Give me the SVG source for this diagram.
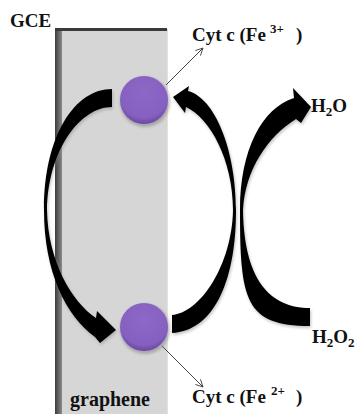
<svg xmlns="http://www.w3.org/2000/svg" width="358" height="414" viewBox="0 0 358 414">
<style>
.t{font-family:"Liberation Serif","Times New Roman",serif;font-weight:bold;fill:#111}
.arr{fill:#000}
.thin{stroke:#444;stroke-width:1;fill:none}
</style>
<defs>
<linearGradient id="edge" x1="0" y1="0" x2="1" y2="0">
<stop offset="0" stop-color="#3c3c3c"/><stop offset="1" stop-color="#8a8a8a"/>
</linearGradient>
<radialGradient id="ball" cx="0.5" cy="0.35" r="0.65">
<stop offset="0" stop-color="#8d68c6"/><stop offset="0.8" stop-color="#8660c0"/><stop offset="1" stop-color="#6a46a2"/>
</radialGradient>
<filter id="sh" x="-20%" y="-20%" width="140%" height="140%">
<feGaussianBlur stdDeviation="1.5"/>
</filter>
<marker id="open" viewBox="0 0 10 10" refX="9" refY="5" markerWidth="9" markerHeight="9" orient="auto" markerUnits="userSpaceOnUse">
<path d="M1,1 L9,5 L1,9" fill="none" stroke="#444" stroke-width="1"/>
</marker>
</defs>

<g id="electrode">
<rect x="55" y="29" width="113" height="385" fill="#d6d6d6"/>
<rect x="55" y="29" width="7" height="385" fill="url(#edge)"/>
<rect x="55" y="28" width="112" height="3" fill="#3a3a3a"/>
<line x1="167.5" y1="31" x2="167.5" y2="414" stroke="#e2e2e2" stroke-width="1"/>
</g>

<g id="connectors">
<g id="arrow-left">
<path d="M112,89 C75,89 44,135 44,210 C44,272 66,316 95,337 L100,343 L116,330 L97,311 L96,318 C72,302 48,262 47,210 C48,150 80,107 112,107 Z" fill="#888" opacity="0.5" filter="url(#sh)" transform="translate(1,2)"/>
<path class="arr" d="M112,89 C75,89 44,135 44,210 C44,272 66,316 95,337 L100,343 L116,330 L97,311 L96,318 C72,302 48,262 47,210 C48,150 80,107 112,107 Z"/>
</g>
<g id="arrow-middle">
<path d="M172,315 C200,313 232,265 233,210 C233,160 210,118 186,107 L185,113 L173,97 L189,86 L188,91 C215,98 236,150 236,210 C236,285 212,331 172,333 Z" fill="#888" opacity="0.5" filter="url(#sh)" transform="translate(1,2)"/>
<path class="arr" d="M172,315 C200,313 232,265 233,210 C233,160 210,118 186,107 L185,113 L173,97 L189,86 L188,91 C215,98 236,150 236,210 C236,285 212,331 172,333 Z"/>
</g>
<g id="arrow-right">
<path d="M310,308 L310,326 C245,326 240,300 240,210 C240,150 262,108 294,98 L293,88 L311,107 L301,123 L296,119 C268,136 245,170 243,210 C244,280 270,308 310,308 Z" fill="#888" opacity="0.5" filter="url(#sh)" transform="translate(1,2)"/>
<path class="arr" d="M310,308 L310,326 C245,326 240,300 240,210 C240,150 262,108 294,98 L293,88 L311,107 L301,123 L296,119 C268,136 245,170 243,210 C244,280 270,308 310,308 Z"/>
</g>
<line class="thin" x1="166" y1="85" x2="203" y2="48" marker-end="url(#open)"/>
<line class="thin" x1="162" y1="346" x2="203" y2="387" marker-end="url(#open)"/>
</g>

<g id="cyt-top">
<circle cx="145" cy="102" r="25" fill="#777" opacity="0.5" filter="url(#sh)"/>
<circle cx="144" cy="100" r="24" fill="url(#ball)"/>
</g>
<g id="cyt-bottom">
<circle cx="145" cy="329" r="25" fill="#777" opacity="0.5" filter="url(#sh)"/>
<circle cx="144" cy="327" r="24" fill="url(#ball)"/>
</g>

<g id="labels">
<text class="t" x="10" y="27" font-size="19">GCE</text>
<text class="t" x="192" y="41" font-size="19">Cyt c (Fe<tspan x="270" y="33" font-size="13">3+</tspan><tspan x="296" y="41">)</tspan></text>
<text class="t" x="192" y="403" font-size="19">Cyt c (Fe<tspan x="271" y="395" font-size="13">2+</tspan><tspan x="296" y="403">)</tspan></text>
<text class="t" x="311" y="112" font-size="19">H<tspan font-size="13" dy="4">2</tspan><tspan dy="-4">O</tspan></text>
<text class="t" x="312" y="343" font-size="19">H<tspan font-size="13" dy="4">2</tspan><tspan dy="-4">O</tspan><tspan font-size="13" dy="4">2</tspan></text>
<text class="t" x="70" y="406" font-size="20">graphene</text>
</g>
</svg>
